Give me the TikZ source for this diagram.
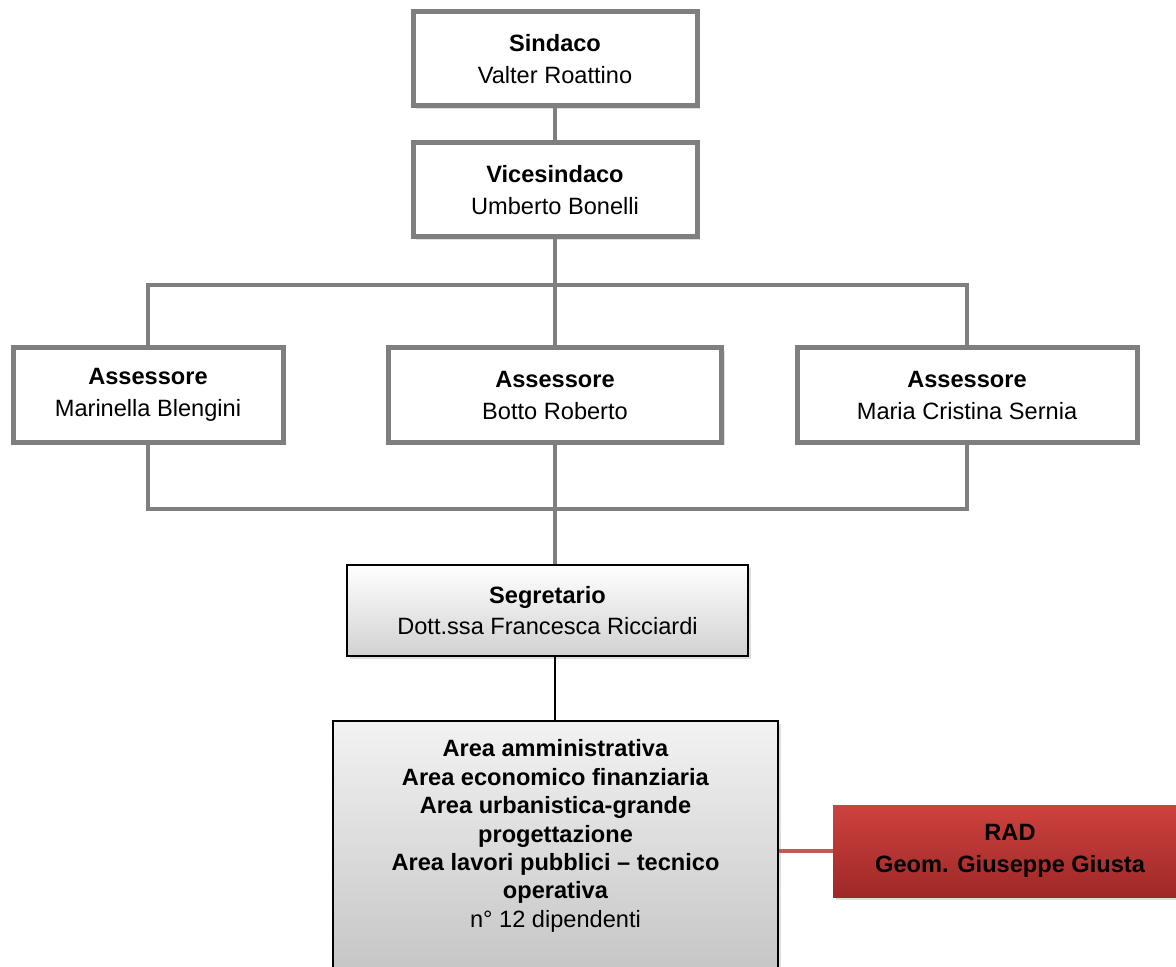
\documentclass[tikz,border=0pt]{standalone}
\usepackage{fontspec}
\setmainfont{Liberation Sans}
\usetikzlibrary{shadows}
\definecolor{boxgray}{RGB}{127,127,127}
\definecolor{radtop}{RGB}{206,66,62}
\definecolor{radbot}{RGB}{158,40,38}
\definecolor{radline}{RGB}{200,88,86}
\tikzset{
  office/.style={draw=boxgray, line width=2.5pt, fill=white, align=center,
    inner sep=0pt, minimum height=47pt,
    drop shadow={shadow xshift=1.5pt, shadow yshift=-1.5pt, opacity=0.25},
    font=\fontsize{11.8}{16}\selectfont},
  staff/.style={draw=black, line width=0.8pt, top color=white, bottom color=black!18,
    align=center, drop shadow={shadow xshift=1.5pt, shadow yshift=-1.5pt, opacity=0.25},
    font=\fontsize{11.8}{14.2}\selectfont},
  link/.style={draw=boxgray, line width=2.2pt},
}
\begin{document}
\begin{tikzpicture}[x=0.5pt, y=-0.5pt]
    \useasboundingbox (0,0) rectangle (1176,967);
    \clip (0,0) rectangle (1176,967);

    \node[office, minimum width=142pt] (sind) at (555,59) {\textbf{Sindaco}\\Valter Roattino};
    \node[office, minimum width=142pt] (vice) at (555,190) {\textbf{Vicesindaco}\\Umberto Bonelli};

    \node[office, minimum width=135pt] (ass1) at (148,395) {\textbf{Assessore}\\Marinella Blengini};
    \node[office, minimum width=166.5pt] (ass2) at (555,395) {\textbf{Assessore}\\Botto Roberto};
    \node[office, minimum width=170pt] (ass3) at (967,395) {\textbf{Assessore}\\Maria Cristina Sernia};

    \coordinate (jtop) at (555,285);
    \coordinate (jbot) at (555,509);

    \draw[link] (sind) -- (vice);
    \draw[link] (vice) -- (jtop);
    \draw[link] (ass1.north) -- (ass1.north |- jtop) -- (ass3.north |- jtop) -- (ass3.north);
    \draw[link] (jtop) -- (ass2);
    \draw[link] (ass1.south) -- (ass1.south |- jbot) -- (ass3.south |- jbot) -- (ass3.south);
    \draw[link] (ass2) -- (jbot);

    \node[staff, minimum width=200.5pt, minimum height=45.5pt, inner sep=0pt,
        font=\fontsize{11.8}{15.5}\selectfont] (seg) at (547.5,610.5)
        {\textbf{Segretario}\\Dott.ssa Francesca Ricciardi};
    \draw[link] (jbot) -- (jbot |- seg.north);

    \node[staff, bottom color=black!24, top color=black!5, minimum width=222.5pt, inner ysep=9.5pt, anchor=north] (area) at (555.5,720)
        {\textbf{Area amministrativa}\\\textbf{Area economico finanziaria}\\\textbf{Area urbanistica-grande}\\
         \textbf{progettazione}\\\textbf{Area lavori pubblici – tecnico}\\\textbf{operativa}\\
         n° 12 dipendenti\\\rule{0pt}{20pt}};
    \draw[black, line width=0.8pt] (seg.south -| jbot) -- (jbot |- area.north);

    \node[draw=none, top color=radtop, bottom color=radbot, align=center, inner sep=0pt,
        minimum width=177pt, minimum height=46pt,
        drop shadow={shadow xshift=1.5pt, shadow yshift=-1.5pt, opacity=0.25},
        font=\fontsize{11.8}{16}\selectfont\bfseries] (rad) at (1010,851)
        {RAD\\Geom. Giuseppe Giusta};
    \draw[radline, line width=2pt] (area.east |- rad.west) -- (rad.west);
\end{tikzpicture}
\end{document}
